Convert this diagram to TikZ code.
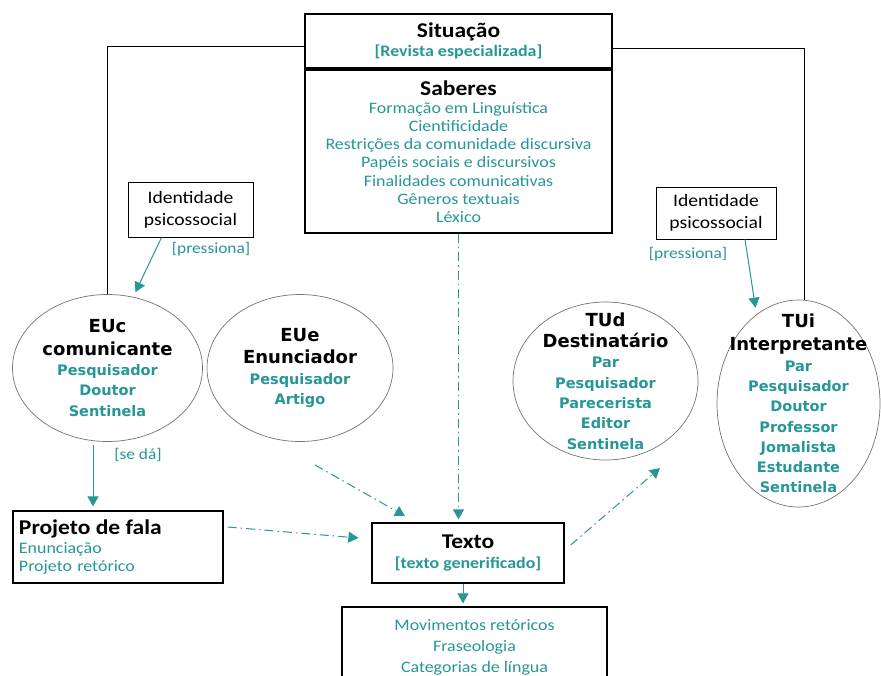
\documentclass[tikz,border=0pt]{standalone}
\usepackage{fontspec}
\setmainfont{Carlito}[FakeStretch=1.12]
\newfontfamily\rolefont{DejaVu Sans}
\usetikzlibrary{arrows.meta,shapes.geometric}
\definecolor{tealtext}{RGB}{38,150,150}
\newcommand{\tealtxt}[1]{{\color{tealtext}#1}}
\newcommand{\boxhead}[1]{{\bfseries\fontsize{21}{22}\selectfont #1}}
\newcommand{\rolehead}[1]{{\fontsize{18}{21}\selectfont #1}}

\begin{document}
\begin{tikzpicture}[x=1pt,y=-1pt,>={Triangle[width=11pt,length=10pt]},
    main box/.style={draw,line width=1.2pt,align=center,inner sep=2pt,font=\fontsize{16}{18.2}\selectfont},
    role node/.style={ellipse,draw=black!55,line width=0.7pt,align=center,inner sep=0pt,
      font=\rolefont\bfseries\fontsize{14.5}{20.3}\selectfont},
    note/.style={font=\fontsize{15.5}{16}\selectfont,text=tealtext},
    link/.style={line width=0.9pt},
    push/.style={->,draw=tealtext,line width=1pt},
    flow/.style={->,draw=tealtext,line width=1pt,dash pattern=on 9pt off 4pt on 1.5pt off 4pt}]
  \useasboundingbox (0,0) rectangle (881,675);

  % situation and knowledge
  \node[main box,minimum width=307,minimum height=54] (sit) at (458.5,41)
    {\boxhead{Situação}\\[1pt]\tealtxt{\bfseries[Revista especializada]}};
  \node[main box,minimum width=307,minimum height=163] (sab) at (458.5,151.5)
    {\boxhead{Saberes}\\[0pt]\tealtxt{Formação em Linguística}\\\tealtxt{Cientificidade}\\
     \tealtxt{Restrições da comunidade discursiva}\\\tealtxt{Papéis sociais e discursivos}\\
     \tealtxt{Finalidades comunicativas}\\\tealtxt{Gêneros textuais}\\\tealtxt{Léxico}};

  % identities
  \node[main box,line width=1pt,minimum width=125,minimum height=55,font=\fontsize{17.5}{19}\selectfont] (idl) at (190.5,209.5)
    {Identidade\\[3pt]psicossocial};
  \node[main box,line width=1pt,minimum width=120,minimum height=52,font=\fontsize{17.5}{19}\selectfont] (idr) at (716,213)
    {Identidade\\[3pt]psicossocial};
  \node[note] (pl) at (211,249) {[pressiona]};
  \node[note] (pr) at (688,254) {[pressiona]};

  % subjects
  \node[role node,minimum width=190,minimum height=147] (euc) at (107.5,368)
    {\rolehead{EUc}\\[2pt]\rolehead{comunicante}\\\tealtxt{Pesquisador}\\\tealtxt{Doutor}\\\tealtxt{Sentinela}};
  \node[role node,minimum width=186,minimum height=147] (eue) at (300,368)
    {\rolehead{EUe}\\[2pt]\rolehead{Enunciador}\\\tealtxt{Pesquisador}\\\tealtxt{Artigo}};
  \node[role node,inner ysep=-16pt,minimum width=185,minimum height=158] (tud) at (605.5,381)
    {\rolehead{TUd}\\[1pt]\rolehead{Destinatário}\\\tealtxt{Par}\\\tealtxt{Pesquisador}\\
     \tealtxt{Parecerista}\\\tealtxt{Editor}\\\tealtxt{Sentinela}};
  \node[role node,inner ysep=-21pt,inner xsep=-17pt,minimum width=163,minimum height=207] (tui) at (798.5,403.5)
    {\rolehead{TUi}\\[3pt]\rolehead{Interpretante}\\\tealtxt{Par}\\\tealtxt{Pesquisador}\\
     \tealtxt{Doutor}\\\tealtxt{Professor}\\\tealtxt{Jomalista}\\\tealtxt{Estudante}\\\tealtxt{Sentinela}};
  \node[note] (sd) at (138,455) {[se dá]};

  % text and products
  \node[main box,minimum width=210,minimum height=72,text width=198,align=left,
    font=\fontsize{16}{18.5}\selectfont] (proj) at (118,547)
    {\boxhead{Projeto de fala}\\\tealtxt{Enunciação}\\\tealtxt{Projeto retórico}};
  \node[main box,minimum width=192,minimum height=60] (tex) at (468,553)
    {\boxhead{Texto}\\[2pt]\tealtxt{\bfseries[texto generificado]}};
  \node[main box,minimum width=265,minimum height=80,font=\fontsize{16}{21}\selectfont] (mov) at (474.5,647)
    {\tealtxt{Movimentos retóricos}\\\tealtxt{Fraseologia}\\\tealtxt{Categorias de língua}};

  \coordinate (eue out) at (315,465);
  \coordinate (tex in) at (405,516);
  \coordinate (tud in) at (660,468);

  \draw[link] ([yshift=-5pt]sit.west) -| (euc.north);
  \draw[link] ([yshift=-7pt]sit.east) -| ([xshift=6pt]tui.north);
  \draw[push] ([xshift=-29pt]idl.south) -- ([xshift=28pt,yshift=2pt]euc.north);
  \draw[push] ([xshift=29pt]idr.south) -- ([xshift=-43pt,yshift=-8pt]tui.north);
  \draw[push] ([xshift=-14.5pt,yshift=-3pt]euc.south) -- ([xshift=-25pt,yshift=4pt]proj.north);
  \draw[flow,shorten >=3pt] (sab.south) -- (sab.south |- tex.north);
  \draw[flow] (eue out) -- (tex in);
  \draw[flow] ([shift={(4pt,20pt)}]proj.east) -- ([shift={(-13pt,15pt)}]tex.west);
  \draw[flow] ([shift={(6pt,8pt)}]tex.east) -- (tud in);
  \draw[flow,shorten >=3pt] ([xshift=-5pt]tex.south) -- ([xshift=-5pt]tex.south |- mov.north);
\end{tikzpicture}
\end{document}
